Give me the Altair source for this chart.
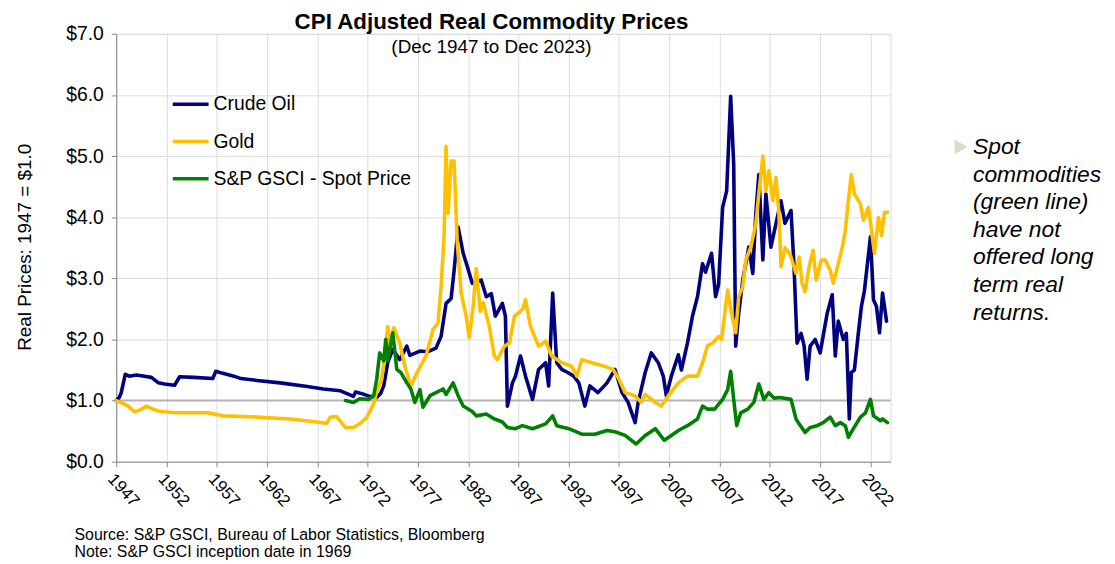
import altair as alt
import pandas as pd

# ---------------- data ----------------
SERIES = ["Crude Oil", "Gold", "S&P GSCI - Spot Price"]
COLORS = ["#000080", "#FFC000", "#008000"]

oil_years = [1947.0, 1947.3, 1947.5, 1947.9, 1948.3, 1949.0, 1949.8, 1950.5, 1951.2, 1951.8,
             1952.8, 1953.3, 1954.7, 1956.6, 1956.9, 1957.5, 1958.7, 1959.4, 1961.0, 1963.3,
             1966.0, 1967.6, 1969.3, 1970.6, 1970.8, 1971.5, 1972.2, 1972.9, 1973.3, 1973.6,
             1974.0, 1974.5, 1975.2, 1975.9, 1976.2, 1977.2, 1978.0, 1978.8, 1979.3, 1979.8,
             1980.3, 1980.6, 1981.0, 1981.5, 1981.9, 1982.4, 1983.3, 1983.8, 1984.3, 1984.7,
             1985.1, 1985.4, 1985.7, 1985.9, 1986.4, 1986.7, 1987.2, 1987.7, 1988.4, 1989.0,
             1989.7, 1990.0, 1990.4, 1990.8, 1991.3, 1991.9, 1992.5, 1993.0, 1993.6, 1994.1,
             1994.9, 1995.8, 1996.6, 1997.3, 1997.9, 1998.6, 1998.9, 1999.6, 2000.2, 2000.9,
             2001.4, 2001.7, 2002.2, 2002.9, 2003.2, 2003.8, 2004.3, 2004.8, 2005.3, 2005.6,
             2006.2, 2006.6, 2006.9, 2007.3, 2007.7, 2008.1, 2008.4, 2008.6, 2008.9, 2009.3,
             2009.9, 2010.3, 2010.6, 2010.9, 2011.3, 2011.6, 2012.1, 2012.6, 2013.1, 2013.5,
             2014.1, 2014.4, 2014.7, 2015.1, 2015.4, 2015.7, 2016.0, 2016.5, 2017.0, 2017.7,
             2018.2, 2018.5, 2018.8, 2019.3, 2019.6, 2019.9, 2020.1, 2020.4, 2020.8, 2021.1,
             2021.4, 2022.0, 2022.3, 2022.6, 2022.9, 2023.2, 2023.6]
oil_values = [1.00, 1.05, 1.13, 1.43, 1.40, 1.42, 1.40, 1.38, 1.29, 1.27,
              1.25, 1.39, 1.38, 1.36, 1.48, 1.45, 1.40, 1.36, 1.33, 1.29,
              1.23, 1.19, 1.16, 1.07, 1.14, 1.11, 1.07, 1.05, 1.12, 1.24,
              1.62, 1.84, 1.67, 1.89, 1.74, 1.81, 1.80, 1.86, 2.05, 2.59,
              2.67, 3.13, 3.84, 3.41, 3.20, 2.92, 2.97, 2.70, 2.75, 2.38,
              2.50, 2.59, 2.38, 0.91, 1.29, 1.40, 1.73, 1.40, 1.02, 1.51,
              1.62, 1.24, 2.76, 1.62, 1.51, 1.46, 1.40, 1.29, 0.91, 1.24,
              1.13, 1.29, 1.51, 1.13, 0.97, 0.64, 0.97, 1.46, 1.78, 1.62,
              1.40, 1.08, 1.40, 1.75, 1.50, 1.94, 2.38, 2.70, 3.24, 3.10,
              3.41, 2.70, 2.90, 4.16, 4.43, 5.98, 4.87, 1.89, 2.43, 2.97,
              3.51, 3.08, 4.06, 4.70, 3.30, 4.38, 3.51, 3.89, 4.27, 3.90,
              4.11, 3.19, 1.94, 2.10, 1.90, 1.35, 1.89, 2.00, 1.78, 2.43,
              2.73, 1.73, 2.30, 2.00, 2.10, 0.70, 1.46, 1.50, 2.11, 2.54,
              2.80, 3.68, 2.65, 2.54, 2.11, 2.76, 2.30]

gold_years = [1947.0, 1947.6, 1948.2, 1948.8, 1949.3, 1950.0, 1950.5, 1951.2, 1952.8, 1956.1,
              1957.7, 1961.0, 1964.3, 1967.0, 1967.9, 1968.3, 1968.9, 1969.2, 1969.8, 1970.6,
              1971.2, 1971.9, 1972.6, 1973.0, 1973.4, 1973.7, 1974.0, 1974.2, 1974.6, 1975.2,
              1975.7, 1976.3, 1976.8, 1977.8, 1978.5, 1979.0, 1979.3, 1979.6, 1979.8, 1980.0,
              1980.3, 1980.6, 1980.9, 1981.3, 1981.8, 1982.1, 1982.5, 1982.8, 1983.2, 1983.5,
              1984.1, 1984.6, 1984.9, 1985.6, 1986.1, 1986.6, 1987.4, 1987.7, 1988.2, 1989.0,
              1989.7, 1990.3, 1991.3, 1992.3, 1992.8, 1993.3, 1994.3, 1995.6, 1996.4, 1997.0,
              1997.6, 1998.6, 1999.2, 1999.6, 2000.6, 2001.2, 2001.9, 2002.9, 2003.8, 2004.8,
              2005.3, 2005.8, 2006.3, 2006.9, 2007.2, 2007.8, 2008.1, 2008.6, 2008.9, 2009.3,
              2009.6, 2010.1, 2010.6, 2010.9, 2011.3, 2011.6, 2011.9, 2012.3, 2012.6, 2012.9,
              2013.1, 2013.5, 2014.0, 2014.6, 2014.9, 2015.2, 2015.5, 2015.9, 2016.3, 2016.6,
              2017.1, 2017.5, 2018.0, 2018.3, 2018.8, 2019.2, 2019.5, 2019.8, 2020.1, 2020.4,
              2021.0, 2021.3, 2021.8, 2022.1, 2022.4, 2022.8, 2023.1, 2023.4, 2023.7]
gold_values = [1.00, 0.96, 0.91, 0.82, 0.84, 0.91, 0.87, 0.83, 0.80, 0.80,
               0.75, 0.73, 0.70, 0.65, 0.63, 0.73, 0.74, 0.68, 0.56, 0.56,
               0.62, 0.72, 0.95, 1.20, 1.35, 1.73, 2.21, 1.88, 2.19, 1.94,
               1.56, 1.24, 1.42, 1.73, 2.16, 2.27, 2.86, 3.68, 5.16, 4.06,
               4.92, 4.92, 3.62, 2.76, 2.38, 2.03, 2.55, 3.16, 2.46, 2.60,
               2.21, 1.73, 1.67, 1.89, 1.94, 2.38, 2.49, 2.65, 2.21, 1.89,
               1.97, 1.73, 1.62, 1.56, 1.40, 1.67, 1.62, 1.56, 1.51, 1.35,
               1.13, 1.08, 0.97, 1.10, 0.97, 0.91, 1.08, 1.29, 1.40, 1.40,
               1.62, 1.90, 1.94, 2.05, 2.00, 2.81, 2.50, 2.11, 2.70, 2.86,
               3.30, 3.51, 3.89, 4.38, 5.00, 4.43, 4.76, 4.27, 4.65, 4.06,
               3.19, 3.50, 3.40, 3.08, 3.35, 2.92, 2.78, 3.19, 3.46, 2.97,
               3.30, 3.30, 3.13, 2.92, 3.24, 3.51, 3.78, 4.27, 4.70, 4.38,
               4.22, 3.95, 4.16, 3.78, 3.41, 4.00, 3.70, 4.08, 4.08]

gsci_years = [1969.8, 1970.6, 1971.2, 1972.1, 1972.6, 1972.9, 1973.2, 1973.6, 1973.8, 1974.0,
              1974.3, 1974.5, 1974.9, 1975.3, 1975.9, 1976.3, 1976.7, 1977.2, 1977.5, 1978.2,
              1978.8, 1979.5, 1979.8, 1980.5, 1981.0, 1981.5, 1982.4, 1982.8, 1983.8, 1984.6,
              1985.4, 1985.9, 1986.7, 1987.4, 1988.4, 1989.7, 1990.4, 1990.8, 1992.0, 1993.3,
              1994.6, 1995.8, 1996.6, 1997.6, 1998.7, 1999.6, 2000.6, 2001.5, 2002.2, 2002.9,
              2003.8, 2004.8, 2005.3, 2005.8, 2006.5, 2007.3, 2007.8, 2008.1, 2008.4, 2008.7,
              2009.1, 2009.8, 2010.4, 2010.9, 2011.4, 2011.9, 2012.4, 2013.0, 2014.1, 2014.6,
              2014.9, 2015.5, 2016.0, 2016.7, 2017.3, 2018.0, 2018.5, 2019.0, 2019.5, 2019.8,
              2020.3, 2021.0, 2021.5, 2022.0, 2022.3, 2023.0, 2023.2, 2023.7]
gsci_values = [1.00, 0.97, 1.03, 1.02, 1.08, 1.35, 1.78, 1.65, 2.00, 1.65,
               1.94, 2.11, 1.51, 1.46, 1.29, 1.19, 0.97, 1.18, 0.89, 1.08,
               1.13, 1.19, 1.10, 1.29, 1.08, 0.91, 0.82, 0.75, 0.78, 0.70,
               0.65, 0.56, 0.54, 0.59, 0.54, 0.62, 0.75, 0.59, 0.54, 0.45,
               0.45, 0.51, 0.49, 0.43, 0.29, 0.43, 0.54, 0.35, 0.43, 0.51,
               0.59, 0.70, 0.91, 0.86, 0.86, 1.02, 1.18, 1.48, 1.02, 0.59,
               0.80, 0.86, 0.97, 1.27, 1.02, 1.13, 1.04, 1.05, 1.02, 0.70,
               0.62, 0.48, 0.56, 0.59, 0.64, 0.73, 0.59, 0.64, 0.59, 0.40,
               0.54, 0.73, 0.80, 1.02, 0.75, 0.67, 0.70, 0.64]

TICK_YEARS = [1947, 1952, 1957, 1962, 1967, 1972, 1977, 1982, 1987, 1992,
              1997, 2002, 2007, 2012, 2017, 2022]
Y_TICKS = [0, 1, 2, 3, 4, 5, 6, 7]

TITLE = "CPI Adjusted Real Commodity Prices"
SUBTITLE = "(Dec 1947 to Dec 2023)"
Y_TITLE = "Real Prices: 1947 = $1.0"
NOTES = ["Source: S&P GSCI, Bureau of Labor Statistics, Bloomberg",
         "Note: S&P GSCI inception date in 1969"]
ANNOT = ["Spot", "commodities", "(green line)", "have not", "offered long",
         "term real", "returns."]

# ---------------- build table ----------------
frames = []
for name, ys, vs in [(SERIES[0], oil_years, oil_values),
                     (SERIES[1], gold_years, gold_values),
                     (SERIES[2], gsci_years, gsci_values)]:
    frames.append(pd.DataFrame({"year": ys, "value": vs, "series": name}))
df = pd.concat(frames, ignore_index=True)

W, H = 780, 431
FONT = "Liberation Sans"

x_enc = alt.X("year:Q",
              scale=alt.Scale(domain=[1947, 2024], nice=False, zero=False),
              axis=alt.Axis(values=TICK_YEARS, format="d", labelAngle=48,
                            labelAlign="left", labelBaseline="top",
                            labelFontSize=17, tickSize=5, labelPadding=4,
                            labelOverlap=False, labelBound=False, labelFlush=False),
              title=None)
y_enc = alt.Y("value:Q",
              scale=alt.Scale(domain=[0, 7], nice=False),
              axis=alt.Axis(values=Y_TICKS, format="$.1f", labelFontSize=19.5,
                            tickSize=5, labelPadding=8),
              title=None)

color_scale = alt.Scale(domain=SERIES, range=COLORS)
legend = alt.Legend(orient="none", legendX=55, legendY=51, title=None,
                    symbolType="stroke", symbolSize=1300, symbolStrokeWidth=3.5,
                    labelFontSize=19.5, labelOffset=3, rowPadding=7.5, padding=0,
                    labelLimit=0, labelColor="black", labelFont=FONT)

base = alt.Chart(df)

ref = alt.Chart(pd.DataFrame({"v": [1.0]})).mark_rule(
    color="#b4b4b4", strokeWidth=2).encode(y=alt.Y("v:Q", scale=alt.Scale(domain=[0, 7], nice=False)))

lines = []
for name in SERIES:
    lines.append(
        base.transform_filter(alt.datum.series == name)
        .mark_line(strokeWidth=3.6, strokeJoin="round", strokeCap="round")
        .encode(x=x_enc, y=y_enc,
                color=alt.Color("series:N", scale=color_scale, legend=legend))
    )

one = pd.DataFrame({"a": [0]})

def txt(text, x, y, size, **kw):
    return alt.Chart(one).mark_text(text=text, fontSize=size, font=FONT,
                                    color="black", **kw).encode(
        x=alt.value(x), y=alt.value(y))

title_t = txt(TITLE, 378, -12, 22.5, fontWeight="bold", align="center", baseline="middle")
sub_t = txt(SUBTITLE, 378, 13, 19, align="center", baseline="middle")
ytitle_t = txt(Y_TITLE, -92, 215, 19, angle=270, align="center", baseline="middle")
note_t = alt.Chart(one).mark_text(text=NOTES, fontSize=16, font=FONT, color="black",
                                  align="left", baseline="middle", lineHeight=16.5).encode(
    x=alt.value(-42), y=alt.value(505))
annot_t = alt.Chart(one).mark_text(text=ANNOT, fontSize=23, font=FONT, color="black",
                                   fontStyle="italic", align="left", baseline="middle",
                                   lineHeight=27.8).encode(
    x=alt.value(863), y=alt.value(114))
tri = alt.Chart(one).mark_point(shape="triangle-right", filled=True, size=230,
                                color="#ddd9c3", opacity=1).encode(
    x=alt.value(851), y=alt.value(114))

chart = alt.layer(ref, *lines, title_t, sub_t, ytitle_t, note_t, annot_t, tri).properties(
    width=W, height=H,
    autosize=alt.AutoSizeParams(type="none"),
    padding={"left": 109, "top": 24, "right": 218, "bottom": 101},
).configure_view(stroke=None).configure_axis(
    grid=False, domainColor="black", tickColor="black", labelColor="black",
    labelFont=FONT, domainWidth=1, tickWidth=1
).configure(font=FONT)

chart.save("out.html", embed_options={"renderer": "svg", "actions": False})
